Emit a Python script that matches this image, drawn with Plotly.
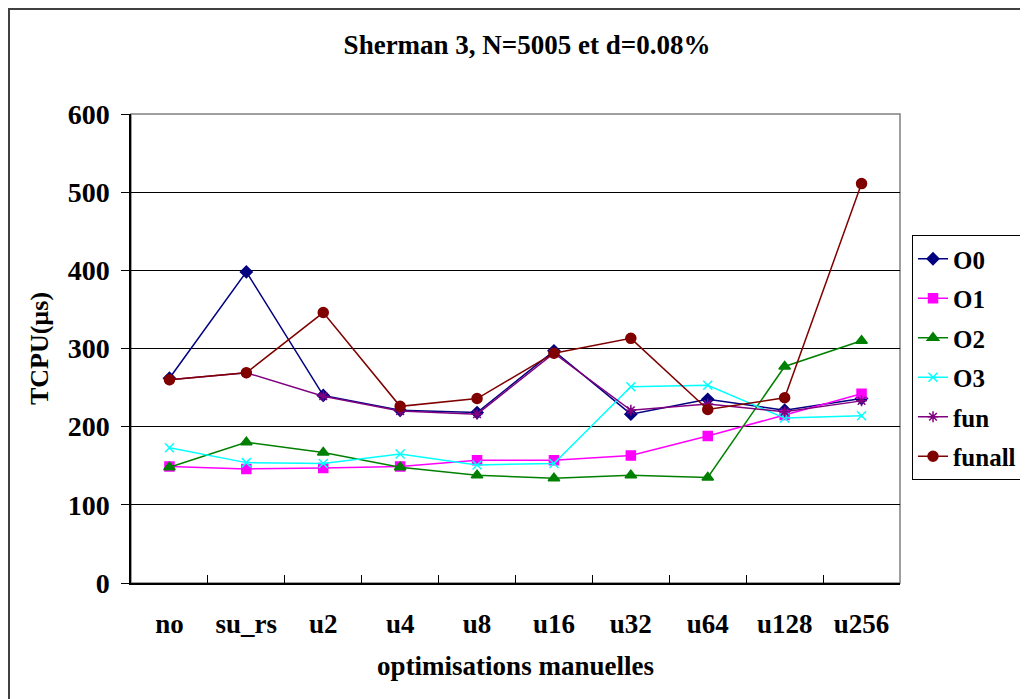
import plotly.graph_objects as go

categories = ["no", "su_rs", "u2", "u4", "u8", "u16", "u32", "u64", "u128", "u256"]

O0 = [262, 398, 240, 221, 218, 297, 216, 235, 221, 236]
O1 = [149, 146, 147, 149, 157, 157, 163, 188, 215, 242]
O2 = [148, 180, 167, 148, 138, 134, 138, 135, 277, 310]
O3 = [173, 154, 153, 165, 151, 153, 251, 253, 211, 214]
fun = [260, 269, 239, 220, 216, 294, 221, 229, 219, 233]
funall = [260, 269, 346, 226, 236, 294, 313, 222, 237, 511]

series = [
    ("O0", O0, "#000080", "diamond", 9),
    ("O1", O1, "#FF00FF", "square", 9),
    ("O2", O2, "#008000", "triangle-up", 10),
    ("O3", O3, "#00FFFF", "x-thin", 9),
    ("fun", fun, "#800080", "asterisk", 9),
    ("funall", funall, "#800000", "circle", 10),
]

FONT = "Liberation Serif"

fig = go.Figure()
for i, (name, vals, color, sym, size) in enumerate(series):
    fig.add_trace(go.Scatter(
        x=categories, y=vals, name=name, mode="lines+markers",
        line=dict(color=color, width=1.5),
        marker=dict(symbol=sym, size=size, color=color,
                    line=dict(color=color, width=1.5)),
        legendgroup=f"g{i}",
    ))

# page offset (body margin) compensation
OFF = 8
W, H = 1028 - OFF, 699 - OFF
L = 131 - OFF
T = 114 - OFF
R = W - (900 - OFF)
B = H - (583 - OFF)
pw = W - L - R
ph = H - T - B


def px_x(x):
    return (x - OFF - L) / pw


def px_y(y):
    return (583 - y) / ph


fig.update_layout(
    width=W, height=H,
    margin=dict(l=L, r=R, t=T, b=B, autoexpand=False),
    paper_bgcolor="white", plot_bgcolor="white",
    font=dict(family=FONT, color="black", size=26, weight="bold"),
    title=dict(text="<b>Sherman 3, N=5005 et d=0.08%</b>", x=px_x(527), xref="paper",
               xanchor="center", y=1 - (45 - OFF) / H, yanchor="middle",
               font=dict(family=FONT, size=27, weight="bold")),
    showlegend=True,
    legend=dict(x=px_x(912), xanchor="left", y=px_y(235), yanchor="top",
                bordercolor="black", borderwidth=1, bgcolor="white",
                font=dict(family=FONT, size=25, weight="bold"),
                traceorder="grouped", tracegroupgap=4, itemwidth=30),
    xaxis=dict(
        type="category", range=[-0.5, 9.5], automargin=False,
        showline=True, linecolor="black", linewidth=1.5,
        ticks="inside", tickson="boundaries", ticklen=8, tickcolor="black",
        showgrid=False, zeroline=False,
        ticklabelstandoff=16,
        tickfont=dict(family=FONT, size=27, weight="bold"),
        title=dict(text="<b>optimisations manuelles</b>", standoff=18,
                   font=dict(family=FONT, size=27, weight="bold")),
    ),
    yaxis=dict(
        range=[0, 600], dtick=100, tick0=0, automargin=False,
        showline=True, linecolor="black", linewidth=1.5,
        ticks="outside", ticklen=8, tickcolor="black",
        showgrid=True, gridcolor="black", gridwidth=1,
        zeroline=False,
        ticklabelstandoff=6,
        tickfont=dict(family=FONT, size=28, weight="bold"),
        title=dict(text="<b>TCPU(µs)</b>", standoff=12,
                   font=dict(family=FONT, size=26, weight="bold")),
    ),
    shapes=[
        dict(type="rect", xref="paper", yref="paper", x0=0, x1=1, y0=0, y1=1,
             line=dict(color="#808080", width=1.5), layer="below"),
        dict(type="rect", xref="paper", yref="paper",
             x0=px_x(OFF + 1), x1=px_x(1100),
             y0=px_y(760), y1=px_y(OFF + 1),
             line=dict(color="#404040", width=2), layer="below"),
    ],
)

fig.write_html("out.html")
